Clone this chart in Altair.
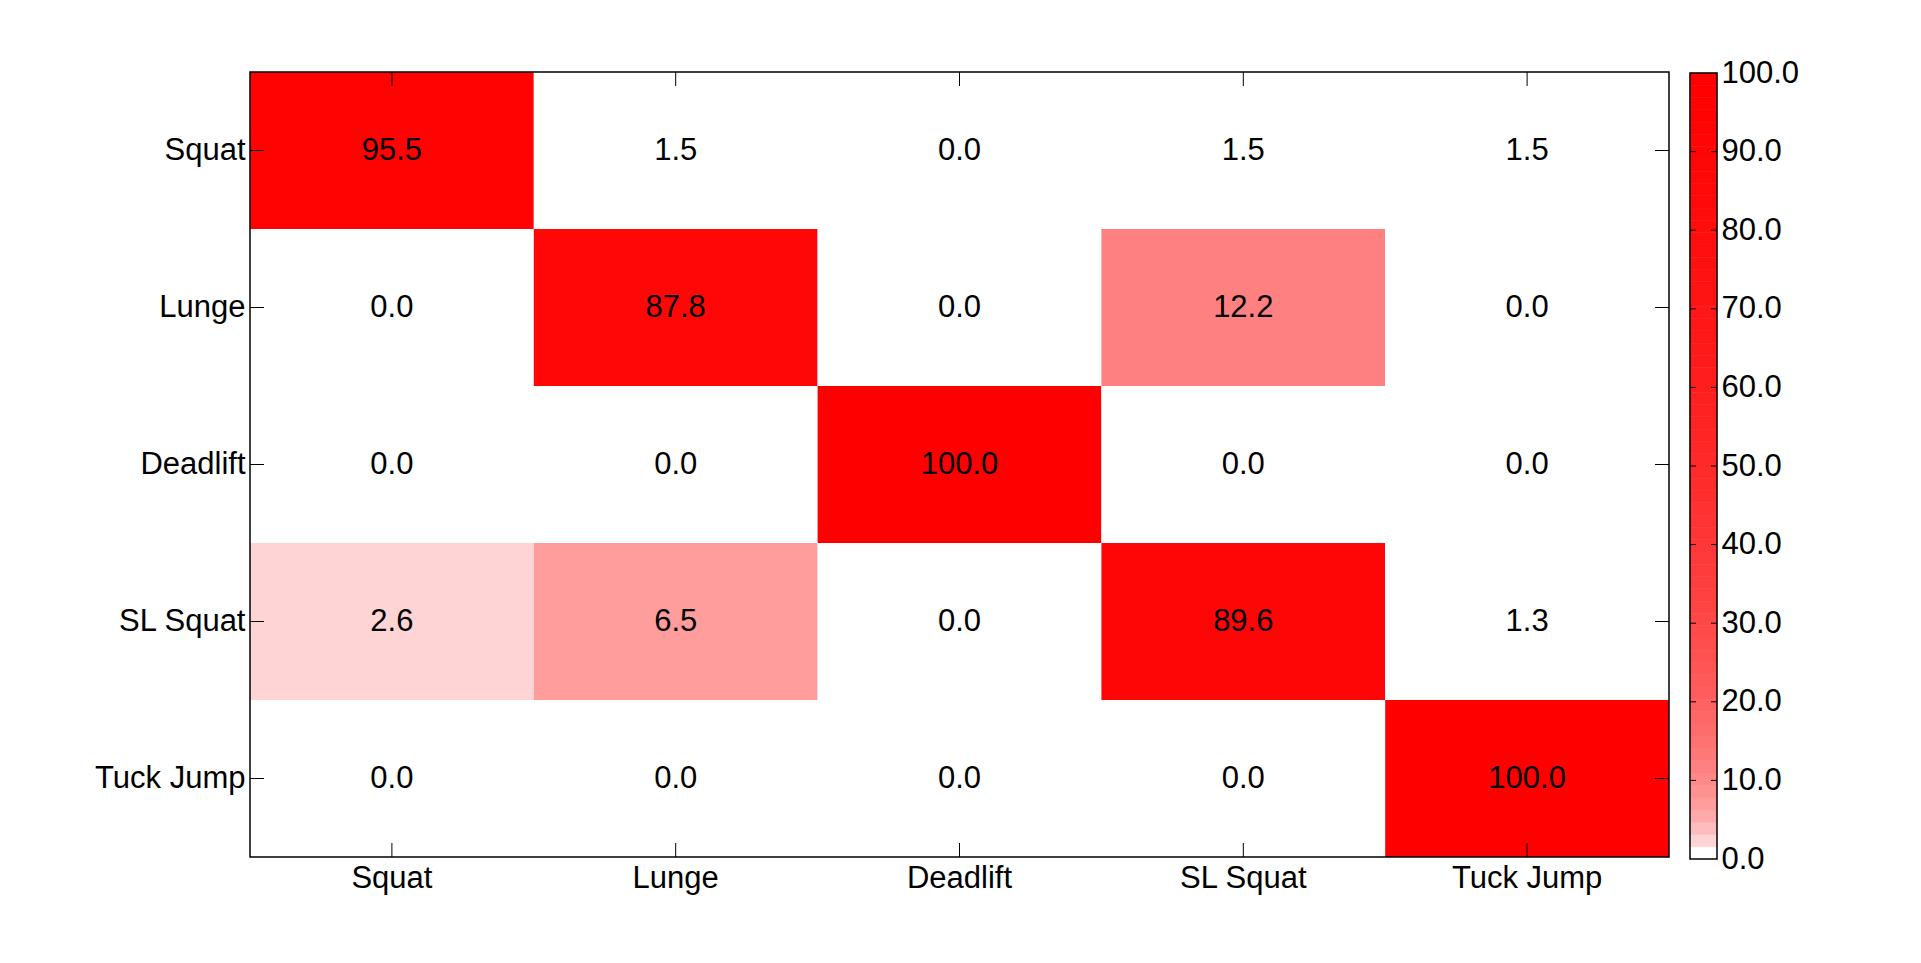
import math
import altair as alt
import numpy as np
import pandas as pd

# ---- data ----
classes = ["Squat", "Lunge", "Deadlift", "SL Squat", "Tuck Jump"]
matrix = [
    [95.5, 1.5, 0.0, 1.5, 1.5],
    [0.0, 87.8, 0.0, 12.2, 0.0],
    [0.0, 0.0, 100.0, 0.0, 0.0],
    [2.6, 6.5, 0.0, 89.6, 1.3],
    [0.0, 0.0, 0.0, 0.0, 100.0],
]
cbar_ticks = [0, 10, 20, 30, 40, 50, 60, 70, 80, 90, 100]
cbar_inner_ticks = [10, 20, 30, 40, 50, 60, 70, 80, 90]

# ---- style ----
W, H = 1419, 785
FONT = "Liberation Sans"
FS = 31
N_LEVELS = 64
CB_X0, CB_X1 = 1440, 1467
CB_Y0, CB_Y1 = 1, 787
TICK = 14
CTICK = 6

# white -> red colormap with logarithmic ramp (64 levels)
colors = []
for i in range(N_LEVELS):
    w = int(round(255 * (1 - math.log(1 + i) / math.log(N_LEVELS))))
    colors.append("#ff%02x%02x" % (w, w))
cscale = alt.Scale(type="quantize", domain=[0, 100], range=colors)

cells = pd.DataFrame(
    [
        {"actual": a, "pred": p, "value": matrix[i][j]}
        for i, a in enumerate(classes)
        for j, p in enumerate(classes)
    ]
)
cats = pd.DataFrame({"actual": classes, "pred": classes})

step = 100 / N_LEVELS
lo = np.arange(N_LEVELS) * step
cbar = pd.DataFrame({"lo": lo, "hi": lo + step, "mid": lo + step / 2})
one = pd.DataFrame({"lo": [0], "hi": [100]})
cbar_t = pd.DataFrame({"lo": cbar_inner_ticks})

xs = alt.X(
    "pred:N",
    sort=classes,
    scale=alt.Scale(paddingInner=0, paddingOuter=0),
    axis=alt.Axis(
        title=None, orient="bottom", ticks=False, domain=False, labelAngle=0,
        labelPadding=6, labelFont=FONT, labelFontSize=FS, labelColor="black",
        grid=False,
    ),
)
ys = alt.Y(
    "actual:N",
    sort=classes,
    scale=alt.Scale(paddingInner=0, paddingOuter=0),
    axis=alt.Axis(
        title=None, orient="left", ticks=False, domain=False, labelPadding=5,
        labelFont=FONT, labelFontSize=FS, labelColor="black", grid=False,
    ),
)

rect = alt.Chart(cells).mark_rect().encode(
    x=xs, y=ys, color=alt.Color("value:Q", scale=cscale, legend=None)
)
text = alt.Chart(cells).mark_text(
    font=FONT, fontSize=FS, color="black", align="center", baseline="middle"
).encode(x=xs, y=ys, text=alt.Text("value:Q", format=".1f"))

lt = alt.Chart(cats).mark_rule(color="black", strokeWidth=1).encode(
    y=ys, x=alt.value(0), x2=alt.value(TICK)
)
rt = alt.Chart(cats).mark_rule(color="black", strokeWidth=1).encode(
    y=ys, x=alt.value(W - TICK), x2=alt.value(W)
)
bt = alt.Chart(cats).mark_rule(color="black", strokeWidth=1).encode(
    x=xs, y=alt.value(H - TICK), y2=alt.value(H)
)
tt = alt.Chart(cats).mark_rule(color="black", strokeWidth=1).encode(
    x=xs, y=alt.value(0), y2=alt.value(TICK)
)
box = alt.Chart(one).mark_rect(fillOpacity=0, stroke="black", strokeWidth=1.5).encode(
    x=alt.value(0), x2=alt.value(W), y=alt.value(0), y2=alt.value(H)
)
heat = alt.layer(rect, text, lt, rt, bt, tt, box)

cy = alt.Y(
    "lo:Q",
    scale=alt.Scale(domain=[0, 100], nice=False, zero=True, range=[CB_Y1, CB_Y0]),
    axis=alt.Axis(
        title=None, orient="right", offset=CB_X1 - W, values=cbar_ticks,
        format=".1f", ticks=False, domain=False, grid=False, labelFont=FONT,
        labelFontSize=FS, labelColor="black", labelPadding=4, labelFlush=False,
        labelBaseline="middle", labelOverlap=False,
    ),
)
bars = alt.Chart(cbar).mark_rect(strokeWidth=0.6).encode(
    x=alt.value(CB_X0), x2=alt.value(CB_X1), y=cy, y2="hi:Q",
    color=alt.Color("mid:Q", scale=cscale, legend=None),
    stroke=alt.Stroke("mid:Q", scale=cscale, legend=None),
)
cl = alt.Chart(cbar_t).mark_rule(color="black", strokeWidth=1).encode(
    y=cy, x=alt.value(CB_X0), x2=alt.value(CB_X0 + CTICK)
)
cr = alt.Chart(cbar_t).mark_rule(color="black", strokeWidth=1).encode(
    y=cy, x=alt.value(CB_X1 - CTICK), x2=alt.value(CB_X1)
)
frame = alt.Chart(one).mark_rect(
    fillOpacity=0, stroke="black", strokeWidth=1.5
).encode(x=alt.value(CB_X0), x2=alt.value(CB_X1), y=cy, y2="hi:Q")
cb = alt.layer(bars, cl, cr, frame)

chart = (
    alt.layer(heat, cb)
    .resolve_scale(y="independent")
    .properties(
        width=W,
        height=H,
        padding={"left": 242, "top": 64, "right": 244, "bottom": 98},
        autosize=alt.AutoSizeParams(type="none"),
        background="white",
    )
    .configure_view(strokeWidth=0)
)

chart.save("out.html", embed_options={"renderer": "svg", "actions": False})
